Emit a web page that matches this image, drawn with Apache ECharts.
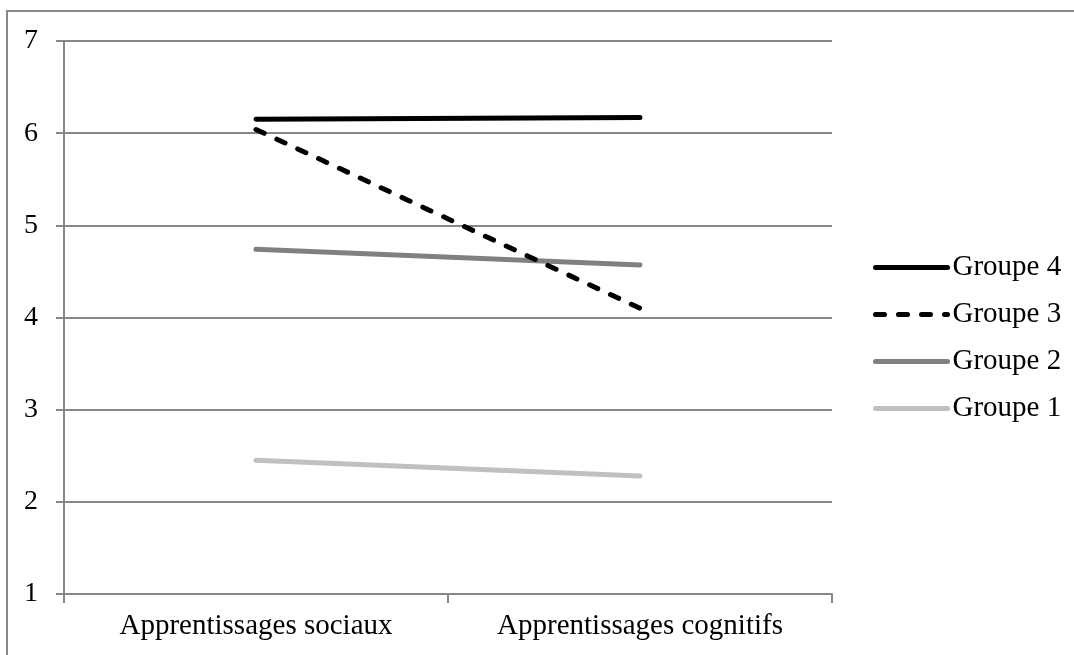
<!DOCTYPE html>
<html>
<head>
<meta charset="utf-8">
<style>
  html, body { margin: 0; padding: 0; background: #fff; }
  #chart { width: 1074px; height: 655px; }
</style>
<script src="https://cdn.jsdelivr.net/npm/echarts@6/dist/echarts.min.js"></script>
</head>
<body>
<div id="chart"></div>
<script>
// Mean scores per learning type
const categories = ['Apprentissages sociaux', 'Apprentissages cognitifs'];
const groupe1 = [2.45, 2.28];
const groupe2 = [4.74, 4.57];
const groupe3 = [6.04, 4.10];
const groupe4 = [6.15, 6.17];
const yTicks = [1, 2, 3, 4, 5, 6, 7];

const FONT = "'Liberation Serif', 'Times New Roman', serif";
const GRID_GRAY = '#878787';

const chart = echarts.init(document.getElementById('chart'), null, { renderer: 'canvas' });

function lineSeries(name, data, color, dashed) {
  return {
    name: name,
    type: 'line',
    data: data,
    symbol: 'none',
    silent: true,
    lineStyle: {
      color: color,
      width: 5,
      cap: 'round',
      type: dashed ? [9, 14] : 'solid'
    },
    itemStyle: { color: color }
  };
}

chart.setOption({
  animation: false,
  backgroundColor: '#fff',
  graphic: [{
    type: 'rect',
    shape: { x: 7, y: 11, width: 1100, height: 700 },
    style: { fill: 'none', stroke: '#888', lineWidth: 2 },
    silent: true
  }],
  grid: { left: 64, right: 242, top: 41, bottom: 61 },
  xAxis: {
    type: 'category',
    data: categories,
    boundaryGap: true,
    axisLine: { lineStyle: { color: GRID_GRAY, width: 2 } },
    axisTick: { show: true, length: 9, lineStyle: { color: GRID_GRAY, width: 2 } },
    axisLabel: { color: '#000', fontFamily: FONT, fontSize: 29, margin: 18 },
    splitLine: { show: false }
  },
  yAxis: {
    type: 'value',
    min: yTicks[0],
    max: yTicks[yTicks.length - 1],
    interval: 1,
    axisLine: { show: true, lineStyle: { color: GRID_GRAY, width: 2 } },
    axisTick: { show: true, length: 8, lineStyle: { color: GRID_GRAY, width: 2 } },
    axisLabel: { color: '#000', fontFamily: FONT, fontSize: 28, margin: 26 },
    splitLine: { show: true, lineStyle: { color: GRID_GRAY, width: 2 } }
  },
  legend: {
    orient: 'vertical',
    left: 873,
    top: 253,
    padding: 0,
    itemWidth: 72,
    itemHeight: 20,
    itemGap: 18,
    data: ['Groupe 4', 'Groupe 3', 'Groupe 2', 'Groupe 1'],
    itemStyle: { color: 'rgba(0,0,0,0)', borderWidth: 0, opacity: 0 },
    lineStyle: { width: 5, cap: 'round' },
    textStyle: { color: '#000', fontFamily: FONT, fontSize: 29, lineHeight: 29 },
    selectedMode: false
  },
  series: [
    lineSeries('Groupe 1', groupe1, '#c0c0c0', false),
    lineSeries('Groupe 2', groupe2, '#808080', false),
    lineSeries('Groupe 3', groupe3, '#000000', true),
    lineSeries('Groupe 4', groupe4, '#000000', false)
  ]
});
</script>
</body>
</html>
